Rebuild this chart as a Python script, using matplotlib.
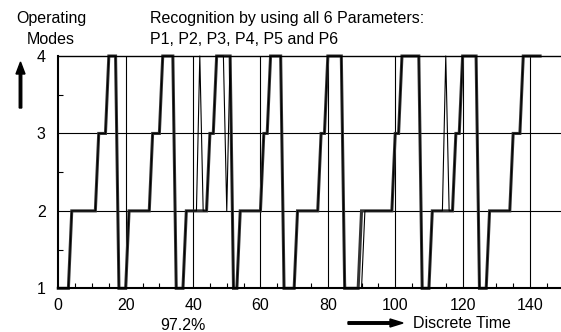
import matplotlib.pyplot as plt
import numpy as np
from matplotlib.patches import FancyArrow

plt.rcParams["font.family"] = ["Liberation Sans", "DejaVu Sans"]

# (mode, number of consecutive time steps) for the reference trace
mode_runs = [
    (1, 4), (2, 8), (3, 3), (4, 3),
    (1, 3), (2, 7), (3, 3), (4, 4),
    (1, 3), (2, 7), (3, 2), (4, 5),
    (1, 2), (2, 7), (3, 2), (4, 4),
    (1, 4), (2, 7), (3, 2), (4, 5),
    (1, 5), (2, 10), (3, 2), (4, 6),
    (1, 3), (2, 7), (3, 2), (4, 5),
    (1, 3), (2, 7), (3, 3), (4, 6),
]
actual_modes = np.concatenate([np.full(n, m) for m, n in mode_runs])
time_steps = np.arange(len(actual_modes))

# recognised modes differ from the actual ones only at these steps
misclassified = {42: 4, 50: 2, 90: 1, 115: 4}
recognised_modes = actual_modes.copy()
for t, m in misclassified.items():
    recognised_modes[t] = m

x_ticks = [0, 20, 40, 60, 80, 100, 120, 140]
y_ticks = [1, 2, 3, 4]
accuracy_label = "97.2%"

fig = plt.figure(figsize=(5.61, 3.32), dpi=100)
ax = fig.add_axes([0.1039, 0.1316, 0.8961, 0.6997])

for xv in x_ticks[1:]:
    ax.axvline(xv, color="black", lw=0.8, zorder=1)
for yv in (2, 3):
    ax.axhline(yv, color="black", lw=0.8, zorder=1)

ax.plot(time_steps, recognised_modes, color="black", lw=0.8, zorder=3, clip_on=False)
ax.plot(time_steps, actual_modes, color="#333333", lw=2.2, zorder=2, clip_on=False,
        solid_joinstyle="miter")

ax.set_xlim(0, 149.2)
ax.set_ylim(1, 4)
ax.spines["right"].set_visible(False)
ax.spines["top"].set_linewidth(1.0)
ax.spines["left"].set_linewidth(1.5)
ax.spines["bottom"].set_linewidth(1.5)

ax.set_xticks(x_ticks)
ax.set_xticks(np.arange(5, 150, 5), minor=True)
ax.set_yticks(y_ticks)
ax.set_yticks([1.5, 2.5, 3.5], minor=True)
ax.tick_params(axis="both", which="major", length=0, labelsize=11.5)
ax.tick_params(axis="x", which="major", pad=7)
ax.tick_params(axis="y", which="major", pad=9)
ax.tick_params(axis="both", which="minor", direction="in", length=3.5, width=0.8)

fig.text(51 / 561, 1 - 18 / 332, "Operating", ha="center", va="center", fontsize=11.5)
fig.text(51 / 561, 1 - 40 / 332, "Modes", ha="center", va="center", fontsize=11.5)
fig.text(150 / 561, 1 - 18 / 332, "Recognition by using all 6 Parameters:",
         ha="left", va="center", fontsize=11.5)
fig.text(150 / 561, 1 - 40 / 332, "P1, P2, P3, P4, P5 and P6",
         ha="left", va="center", fontsize=11.5)

fig.patches.append(FancyArrow(
    20.5 / 561, 1 - 108 / 332, 0, 46 / 332, width=2.5 / 561,
    head_width=9 / 561, head_length=12 / 332, length_includes_head=True,
    color="black", transform=fig.transFigure))
fig.patches.append(FancyArrow(
    348 / 561, 1 - 323 / 332, 55 / 561, 0, width=2.5 / 332,
    head_width=8 / 332, head_length=13 / 561, length_includes_head=True,
    color="black", transform=fig.transFigure))

fig.text(183 / 561, 1 - 325 / 332, accuracy_label, ha="center", va="center", fontsize=11.5)
fig.text(413 / 561, 1 - 323 / 332, "Discrete Time", ha="left", va="center", fontsize=11.5)

fig.savefig("out.png", dpi=100)
